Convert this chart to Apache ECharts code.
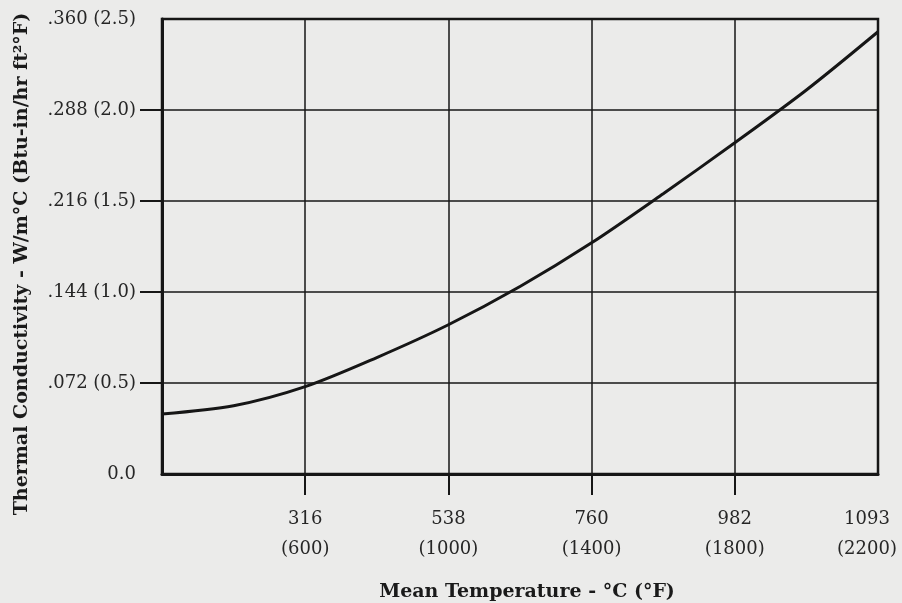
<!DOCTYPE html>
<html>
<head>
<meta charset="utf-8">
<script src="https://cdn.jsdelivr.net/npm/echarts@6/dist/echarts.min.js"></script>
<style>
html,body{margin:0;padding:0;background:#ebebea;}
#chart{width:902px;height:603px;}
</style>
</head>
<body>
<div id="chart"></div>
<script>
// Mean temperature (°F) and thermal conductivity (Btu-in/hr ft²°F)
const tempF = [200, 400, 600, 800, 1000, 1200, 1400, 1600, 1800, 2000, 2200];
const conductivity = [0.33, 0.375, 0.48, 0.64, 0.82, 1.03, 1.27, 1.54, 1.82, 2.11, 2.43];

// X tick labels (°C over °F)
const xTickValuesF = [600, 1000, 1400, 1800, 2200];
const xTickLabelsC = ['316', '538', '760', '982', '1093'];

// Y tick labels (W/m°C with Btu-in/hr ft²°F)
const yTickValues = [0, 0.5, 1.0, 1.5, 2.0, 2.5];
const yTickLabels = ['0.0', '.072 (0.5)', '.144 (1.0)', '.216 (1.5)', '.288 (2.0)', '.360 (2.5)'];
const yTickMarks = [0.5, 1.0, 1.5, 2.0];

const yTitle = 'Thermal Conductivity - W/m°C (Btu-in/hr ft²°F)';
const xTitle = 'Mean Temperature - °C (°F)';

const ink = '#161616';
const textColor = '#262626';
const serif = '"DejaVu Serif", "Liberation Serif", serif';

const chart = echarts.init(document.getElementById('chart'));
chart.setOption({
  backgroundColor: '#ebebea',
  animation: false,
  grid: {
    left: 162, right: 24, top: 19, bottom: 129, outerBoundsMode: 'none',
    show: true, borderColor: ink, borderWidth: 2.5
  },
  xAxis: {
    type: 'value', min: 200, max: 2200, interval: 400,
    axisLine: { show: true, lineStyle: { color: ink, width: 3 } },
    axisTick: { show: true, customValues: [600, 1000, 1400, 1800], length: 21, lineStyle: { color: ink, width: 2 } },
    splitLine: { show: true, lineStyle: { color: ink, width: 1.5 } },
    axisLabel: {
      margin: 30,
      fontFamily: serif, fontSize: 18, color: textColor, lineHeight: 30,
      formatter: function (v) {
        const i = xTickValuesF.indexOf(v);
        if (i < 0) return '';
        const s = xTickLabelsC[i] + '\n(' + xTickValuesF[i] + ')';
        return i === xTickValuesF.length - 1 ? '{last|' + s + '}' : s;
      },
      rich: { last: { fontFamily: serif, fontSize: 18, color: textColor, lineHeight: 30, padding: [0, 22, 0, 0] } }
    }
  },
  yAxis: {
    type: 'value', min: 0, max: 2.5, interval: 0.5,
    axisLine: { show: true, lineStyle: { color: ink, width: 3 } },
    axisTick: { show: true, customValues: yTickMarks, length: 22, lineStyle: { color: ink, width: 2 } },
    splitLine: { show: true, lineStyle: { color: ink, width: 1.5 } },
    axisLabel: {
      margin: 26,
      fontFamily: serif, fontSize: 18, color: textColor,
      formatter: function (v) {
        const i = yTickValues.findIndex(t => Math.abs(t - v) < 1e-9);
        return i < 0 ? '' : yTickLabels[i];
      }
    }
  },
  graphic: [
    {
      type: 'text', x: 22, y: 264, rotation: Math.PI / 2,
      style: { text: yTitle, font: 'bold 19px ' + serif, fill: '#1a1a1a', align: 'center', verticalAlign: 'middle' }
    },
    {
      type: 'text', x: 527, y: 592,
      style: { text: xTitle, font: 'bold 19px ' + serif, fill: '#1a1a1a', align: 'center', verticalAlign: 'middle' }
    }
  ],
  series: [{
    type: 'line',
    data: tempF.map((t, i) => [t, conductivity[i]]),
    smooth: 0.3,
    showSymbol: false,
    symbol: 'none',
    lineStyle: { color: ink, width: 3 }
  }, {
    type: 'custom',
    clip: false,
    silent: true,
    data: yTickMarks.map(v => [200, v]),
    encode: { x: 0, y: 1 },
    renderItem: function (params, api) {
      const p = api.coord([api.value(0), api.value(1)]);
      return {
        type: 'line',
        shape: { x1: p[0] - 22, y1: p[1], x2: p[0], y2: p[1] },
        style: { stroke: ink, lineWidth: 2 }
      };
    }
  }]
});
</script>
</body>
</html>
